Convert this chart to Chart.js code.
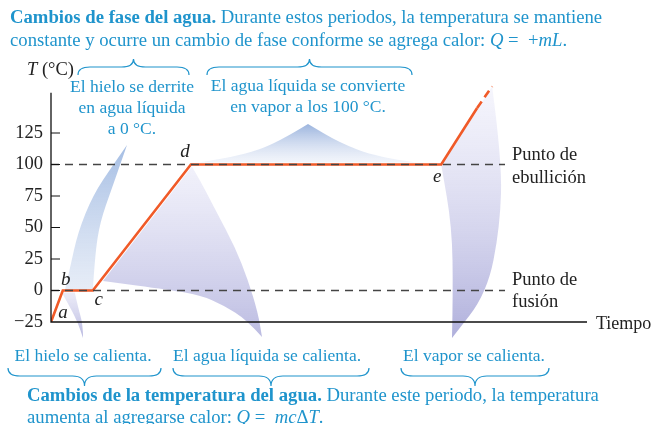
<!DOCTYPE html>
<html>
<head>
<meta charset="utf-8">
<script src="https://cdn.jsdelivr.net/npm/chart.js@4.4.0/dist/chart.umd.min.js"></script>
<style>
  html, body { margin: 0; padding: 0; background: #fff; }
</style>
</head>
<body>
<canvas id="myChart" width="653" height="424"></canvas>
<script>
// datos
const tiempo = [0, 2.2, 7.8, 26.1, 72.8, 79.5];
const temperatura = [-25, 0, 0, 100, 100, 144.8];
const tiempoExtra = [79.5, 82.3];
const tempExtra = [144.8, 162];
const puntoEbullicion = 100;
const puntoFusion = 0;
const finReferencia = 84.7;
const yTicks = [-25, 0, 25, 50, 75, 100, 125];
const letras = ['a', 'b', 'c', 'd', 'e'];

const azul = '#1f94cc';
const naranja = '#f05a28';
const serif = '"Liberation Serif", "Times New Roman", serif';

function pares(xs, ys) { return xs.map((x, i) => ({ x: x, y: ys[i] })); }

function curva(ctx, pts) {
  for (let i = 1; i < pts.length - 1; i++) {
    const mx = (pts[i][0] + pts[i + 1][0]) / 2, my = (pts[i][1] + pts[i + 1][1]) / 2;
    ctx.quadraticCurveTo(pts[i][0], pts[i][1], mx, my);
  }
  const l = pts[pts.length - 1];
  ctx.lineTo(l[0], l[1]);
}

function abanico(ctx, izq, der, top, bottom, c1, c2) {
  const g = ctx.createLinearGradient(0, top, 0, bottom);
  g.addColorStop(0, c1);
  g.addColorStop(1, c2);
  ctx.beginPath();
  ctx.moveTo(izq[0][0], izq[0][1]);
  curva(ctx, izq);
  const r = der.slice().reverse();
  ctx.lineTo(r[0][0], r[0][1]);
  curva(ctx, r);
  ctx.closePath();
  ctx.fillStyle = g;
  ctx.fill();
}

function texto(ctx, x, y, partes, align) {
  let w = 0;
  partes.forEach(p => { ctx.font = p[1]; w += ctx.measureText(p[0]).width; });
  let cx = align === 'center' ? x - w / 2 : x;
  ctx.textAlign = 'left';
  ctx.textBaseline = 'middle';
  partes.forEach(p => { ctx.font = p[1]; ctx.fillText(p[0], cx, y); cx += ctx.measureText(p[0]).width; });
}

function llave(ctx, x1, x2, yBody, yEnd, yPeak) {
  const c = (x1 + x2) / 2, r = 12;
  ctx.beginPath();
  ctx.moveTo(x1, yEnd);
  ctx.quadraticCurveTo(x1, yBody, x1 + r, yBody);
  ctx.lineTo(c - r, yBody);
  ctx.quadraticCurveTo(c, yBody, c, yPeak);
  ctx.quadraticCurveTo(c, yBody, c + r, yBody);
  ctx.lineTo(x2 - r, yBody);
  ctx.quadraticCurveTo(x2, yBody, x2, yEnd);
  ctx.stroke();
}

const N = 'px ' + serif;
const decor = {
  id: 'decor',
  beforeDatasetsDraw(chart) {
    const ctx = chart.ctx, sx = chart.scales.x, sy = chart.scales.y;
    const p = tiempo.map((t, i) => [sx.getPixelForValue(t), sy.getPixelForValue(temperatura[i])]);
    const q = [sx.getPixelForValue(tiempoExtra[1]), sy.getPixelForValue(tempExtra[1])];
    ctx.save();
    // hielo se derrite
    abanico(ctx, [[127, 145], [113, 165], [93, 195], [78, 232], [70, 268], [p[1][0] + 2, p[1][1]]],
      [[127, 145], [112, 188], [100, 222], [95, 255], [p[2][0], p[2][1]]], 145, 291,
      'rgba(160,186,226,0.95)', 'rgba(215,225,242,0.6)');
    // agua se convierte en vapor
    abanico(ctx, [[308, 124], [277, 143], [243, 155], [p[3][0] + 8, p[3][1] - 2]],
      [[308, 124], [340, 143], [377, 157], [p[4][0] - 25, p[4][1] - 2]], 124, 164,
      'rgba(150,176,220,0.95)', 'rgba(228,234,247,0.4)');
    // hielo se calienta
    abanico(ctx, [[p[1][0] - 1, p[1][1] + 2], [70, 307], [78, 323], [83, 338]],
      [[p[1][0] + 12, p[1][1] + 2], [78, 307], [83, 325], [83, 338]], 292, 338,
      'rgba(215,215,240,0.5)', 'rgba(175,175,220,0.9)');
    // agua liquida se calienta
    ctx.beginPath();
    ctx.moveTo(p[3][0] + 1, p[3][1] + 2);
    curva(ctx, [[p[3][0] + 1, p[3][1] + 2], [200, 180], [217, 213], [235, 247], [248, 280], [258, 313], [262, 337]]);
    curva(ctx, [[262, 337], [247, 320], [223, 305], [200, 295], [170, 290], [103, 281]]);
    ctx.closePath();
    let g = ctx.createLinearGradient(0, 166, 0, 337);
    g.addColorStop(0, 'rgba(230,230,247,0.55)');
    g.addColorStop(1, 'rgba(180,180,222,0.9)');
    ctx.fillStyle = g;
    ctx.fill();
    // vapor se calienta
    ctx.beginPath();
    ctx.moveTo(p[4][0], p[4][1]);
    ctx.lineTo(q[0], q[1]);
    curva(ctx, [[q[0], q[1]], [502, 160], [500, 227], [487, 293], [452, 338]]);
    curva(ctx, [[452, 338], [453, 293], [452, 227], [p[4][0], p[4][1]]]);
    ctx.closePath();
    g = ctx.createLinearGradient(0, 86, 0, 338);
    g.addColorStop(0, 'rgba(236,236,250,0.5)');
    g.addColorStop(1, 'rgba(172,172,218,0.95)');
    ctx.fillStyle = g;
    ctx.fill();
    ctx.restore();
  },
  afterDatasetsDraw(chart) {
    const ctx = chart.ctx, sx = chart.scales.x, sy = chart.scales.y, a = chart.chartArea;
    const p = tiempo.map((t, i) => [sx.getPixelForValue(t), sy.getPixelForValue(temperatura[i])]);
    ctx.save();
    // ejes
    ctx.strokeStyle = '#111';
    ctx.lineWidth = 1.3;
    ctx.beginPath();
    ctx.moveTo(a.left, sy.getPixelForValue(157));
    ctx.lineTo(a.left, a.bottom);
    ctx.lineTo(587, a.bottom);
    ctx.stroke();
    ctx.lineWidth = 1;
    yTicks.filter(v => v > -25).forEach(v => {
      const y = sy.getPixelForValue(v);
      ctx.beginPath(); ctx.moveTo(a.left, y); ctx.lineTo(a.left + 9, y); ctx.stroke();
    });
    // letras de los puntos
    ctx.fillStyle = '#222';
    const off = [[12, -9], [3, -11], [6, 9], [-6, -13], [-4, 12]];
    letras.forEach((l, i) => {
      texto(ctx, p[i][0] + off[i][0], p[i][1] + off[i][1], [[l, 'italic 19' + N]], 'center');
    });
    texto(ctx, 27, 70, [['T', 'italic 18.5' + N], [' (°C)', '18.5' + N]], 'left');
    texto(ctx, 596, 324, [['Tiempo', '18' + N]], 'left');
    const k = '18.5' + N;
    texto(ctx, 512, 155, [['Punto de', k]], 'left');
    texto(ctx, 512, 178, [['ebullición', k]], 'left');
    texto(ctx, 512, 280, [['Punto de', k]], 'left');
    texto(ctx, 512, 302, [['fusión', k]], 'left');
    // anotaciones azules
    ctx.fillStyle = azul;
    const f = '17.5' + N;
    texto(ctx, 132, 87, [['El hielo se derrite', f]], 'center');
    texto(ctx, 132, 108, [['en agua líquida', f]], 'center');
    texto(ctx, 132, 129, [['a 0 °C.', f]], 'center');
    texto(ctx, 308, 86, [['El agua líquida se convierte', f]], 'center');
    texto(ctx, 308, 107, [['en vapor a los 100 °C.', f]], 'center');
    texto(ctx, 83, 356, [['El hielo se calienta.', f]], 'center');
    texto(ctx, 267, 356, [['El agua líquida se calienta.', f]], 'center');
    texto(ctx, 474, 356, [['El vapor se calienta.', f]], 'center');
    const b = 'bold 18.7' + N, n = '18.7' + N, it = 'italic 18.7' + N;
    texto(ctx, 10, 18, [['Cambios de fase del agua.', b], [' Durante estos periodos, la temperatura se mantiene', n]], 'left');
    texto(ctx, 10, 41, [['constante y ocurre un cambio de fase conforme se agrega calor: ', n], ['Q', it], [' =  +', n], ['mL', it], ['.', n]], 'left');
    texto(ctx, 27, 396, [['Cambios de la temperatura del agua.', b], [' Durante este periodo, la temperatura', n]], 'left');
    texto(ctx, 27, 418, [['aumenta al agregarse calor: ', n], ['Q', it], [' =  ', n], ['mc', it], ['Δ', n], ['T', it], ['.', n]], 'left');
    // llaves
    ctx.strokeStyle = azul;
    ctx.lineWidth = 1.2;
    llave(ctx, 78, 189, 67, 75, 59);
    llave(ctx, 207, 412, 67, 75, 59);
    llave(ctx, 8, 161, 376, 368, 386);
    llave(ctx, 173, 369, 376, 368, 386);
    llave(ctx, 401, 549, 376, 368, 386);
    ctx.restore();
  }
};

new Chart(document.getElementById('myChart'), {
  type: 'line',
  data: {
    datasets: [{
      data: pares([0, finReferencia], [puntoEbullicion, puntoEbullicion]),
      borderColor: '#444', borderWidth: 1.3, borderDash: [8, 6], pointRadius: 0
    }, {
      data: pares([0, finReferencia], [puntoFusion, puntoFusion]),
      borderColor: '#444', borderWidth: 1.3, borderDash: [8, 6], pointRadius: 0
    }, {
      data: pares(tiempo, temperatura),
      borderColor: naranja, borderWidth: 2.6, pointRadius: 0, borderJoinStyle: 'miter'
    }, {
      data: pares(tiempoExtra, tempExtra),
      borderColor: naranja, borderWidth: 2.6, borderDash: [8, 5], pointRadius: 0
    }]
  },
  options: {
    responsive: false,
    animation: false,
    devicePixelRatio: 1,
    layout: { padding: { left: 0, right: 66, top: 82.6, bottom: 0 } },
    plugins: { legend: { display: false }, tooltip: { enabled: false } },
    scales: {
      x: {
        type: 'linear', min: 0, max: 100,
        grid: { display: false, drawTicks: false }, border: { display: false },
        ticks: { display: false },
        afterFit(s) { s.height = 102; }
      },
      y: {
        min: -25, max: 165,
        afterBuildTicks(s) { s.ticks = yTicks.map(v => ({ value: v })); },
        grid: { display: false, drawTicks: false }, border: { display: false },
        ticks: {
          color: '#222', padding: 8,
          font: { family: serif, size: 18.5 },
          callback: v => String(v).replace('-', '−')
        },
        afterFit(s) { s.width = 51; }
      }
    }
  },
  plugins: [decor]
});
</script>
</body>
</html>
